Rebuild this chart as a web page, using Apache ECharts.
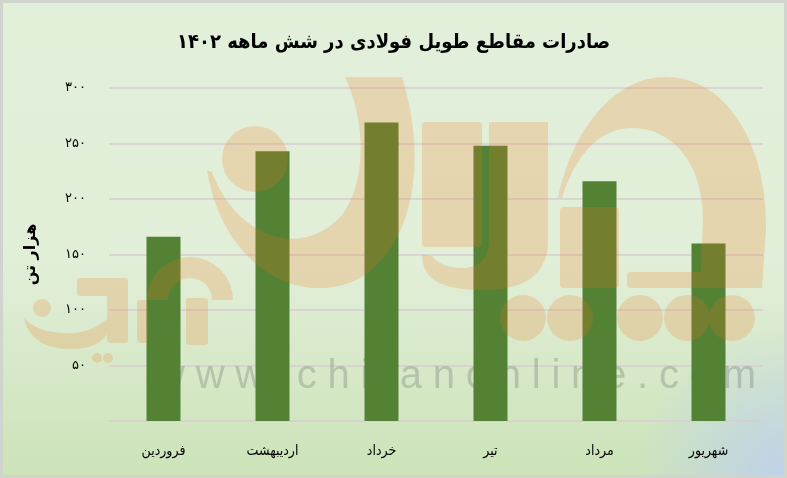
<!DOCTYPE html>
<html>
<head>
<meta charset="utf-8">
<script src="https://cdn.jsdelivr.net/npm/echarts@6/dist/echarts.min.js"></script>
<style>
html,body{margin:0;padding:0;background:#e2efda;}
#chart{width:787px;height:478px;}
</style>
</head>
<body>
<div id="chart"></div>
<script>
// ---- data ----
const titleText = 'صادرات مقاطع طویل فولادی در شش ماهه ۱۴۰۲';
const yAxisName = 'هزار تن';
const categories = ['فروردین', 'اردیبهشت', 'خرداد', 'تیر', 'مرداد', 'شهریور'];
const exportValues = [166, 243, 269, 248, 216, 160];
const yMin = 0, yMax = 300, yStep = 50;
const watermarkText = 'www.chilanonline.com';

const faDigits = '۰۱۲۳۴۵۶۷۸۹';
function toFa(v) { return String(v).replace(/\d/g, d => faDigits[d]); }

const W = 787, H = 478;
const chart = echarts.init(document.getElementById('chart'), null, {renderer: 'canvas'});

// ---- decorative watermark: site address with letter spacing ----
const wmFont = '40px "Liberation Sans", Arial, sans-serif';
const mctx = document.createElement('canvas').getContext('2d');
mctx.font = wmFont;
const wmLeft = 156, wmRight = 756;
const widths = watermarkText.split('').map(c => mctx.measureText(c).width);
const totalW = widths.reduce((a, b) => a + b, 0);
const spacing = (wmRight - wmLeft - totalW) / (watermarkText.length - 1);
const wmChars = [];
let cx = wmLeft;
watermarkText.split('').forEach((c, i) => {
  wmChars.push({
    type: 'text', z: 1, silent: true, x: cx, y: 397,
    style: {text: c, font: wmFont, fill: 'rgba(105,110,105,0.30)', verticalAlign: 'bottom'}
  });
  cx += widths[i] + spacing;
});

// ---- decorative watermark: logo drawn opaque on an offscreen canvas, shown translucent ----
const logoCanvas = document.createElement('canvas');
logoCanvas.width = W; logoCanvas.height = H;
const lg = logoCanvas.getContext('2d');
lg.fillStyle = 'rgb(241,115,19)';
function fp(d) { lg.fill(new Path2D(d)); }
function fc(x, y, r) { lg.beginPath(); lg.arc(x, y, r, 0, Math.PI * 2); lg.fill(); }
function fr(x, y, w, h, r) { lg.beginPath(); lg.roundRect(x, y, w, h, r || 3); lg.fill(); }
// middle crescent + dot
fp('M 345 77 L 402 77 C 425 150, 420 240, 360 278 C 300 310, 222 265, 207 170 L 212 172 C 235 235, 300 262, 342 215 C 368 180, 365 120, 345 77 Z');
fc(255, 159, 33);
// U shape
fr(422, 122, 60, 125, 4);
fp('M 489 122 L 548 122 L 548 240 C 548 275, 525 290, 482 290 C 440 290, 422 278, 422 255 L 432 256 C 437 263, 447 268, 462 268 C 480 268, 489 258, 489 240 Z');
// right arc
fp('M 558 198 C 575 120, 620 77, 665 77 C 730 77, 768 150, 766 230 L 762 288 L 700 288 L 703 220 C 703 160, 670 128, 632 128 C 600 128, 575 155, 562 198 Z');
fr(627, 272, 134, 16, 4);
fr(560, 207, 59, 81, 4);
[523, 570, 640, 687, 732].forEach(x => fc(x, 318, 23));
// small left logo
lg.beginPath(); lg.arc(190, 300, 43, Math.PI, 2 * Math.PI); lg.arc(190, 300, 22, 2 * Math.PI, Math.PI, true); lg.closePath(); lg.fill();
fr(186, 298, 22, 47, 3);
fr(77, 278, 51, 18, 3);
fr(107, 290, 21, 53, 3);
fr(137, 300, 11, 43, 3);
fp('M 24 318 C 30 345, 55 350, 75 349 C 95 348, 106 340, 110 328 L 108 318 C 95 330, 80 334, 64 333 C 45 332, 32 327, 24 318 Z');
fc(42, 308, 9);
fc(97, 358, 5); fc(108, 358, 5);

const option = {
  animation: false,
  backgroundColor: 'transparent',
  title: {
    text: titleText,
    left: 'center',
    top: 28,
    textStyle: {fontFamily: '"DejaVu Sans Condensed", "DejaVu Sans", sans-serif', fontWeight: 'bold', fontSize: 20, color: '#000'}
  },
  grid: {left: 109, right: 24, top: 88, bottom: 57, containLabel: false},
  xAxis: {
    type: 'category',
    data: categories,
    axisLine: {show: false},
    axisTick: {show: false},
    axisLabel: {margin: 23, color: '#000', fontSize: 14, fontFamily: '"DejaVu Sans Condensed", "DejaVu Sans", sans-serif'}
  },
  yAxis: {
    type: 'value',
    min: yMin, max: yMax, interval: yStep,
    name: yAxisName,
    nameLocation: 'middle',
    nameGap: 70,
    nameRotate: 90,
    nameTextStyle: {fontFamily: '"DejaVu Sans", sans-serif', fontSize: 16, fontWeight: 'bold', color: '#000'},
    axisLine: {show: false},
    axisTick: {show: false},
    axisLabel: {margin: 23, color: '#000', fontSize: 13, fontFamily: '"DejaVu Sans", sans-serif',
      formatter: v => v === 0 ? '' : toFa(v)},
    splitLine: {lineStyle: {color: '#d7cdd2', width: 1.5}}
  },
  series: [{
    type: 'bar',
    data: exportValues,
    barWidth: 34,
    z: 2,
    itemStyle: {color: '#548235'}
  }],
  graphic: {
    elements: [
      {type: 'rect', z: -100, silent: true, shape: {x: 0, y: 0, width: W, height: H},
        style: {fill: {type: 'linear', x: 0, y: 0, x2: 0, y2: 1, colorStops: [
          {offset: 0, color: '#e2efda'}, {offset: 0.55, color: '#e1eed8'}, {offset: 1, color: '#cce3b8'}]}}},
      {type: 'rect', z: -99, silent: true, shape: {x: 0, y: 0, width: W, height: H},
        style: {fill: {type: 'radial', x: 1, y: 1, r: 0.32, colorStops: [
          {offset: 0, color: 'rgba(190,208,238,0.95)'}, {offset: 1, color: 'rgba(190,208,238,0)'}]}}},
      {type: 'rect', z: -98, silent: true, shape: {x: 1.5, y: 1.5, width: W - 3, height: H - 3},
        style: {fill: 'none', stroke: '#cfd4cd', lineWidth: 3}},
      {type: 'image', z: 10, silent: true, style: {image: logoCanvas, x: 0, y: 0, width: W, height: H, opacity: 0.2}}
    ].concat(wmChars)
  }
};
chart.setOption(option);
</script>
</body>
</html>
